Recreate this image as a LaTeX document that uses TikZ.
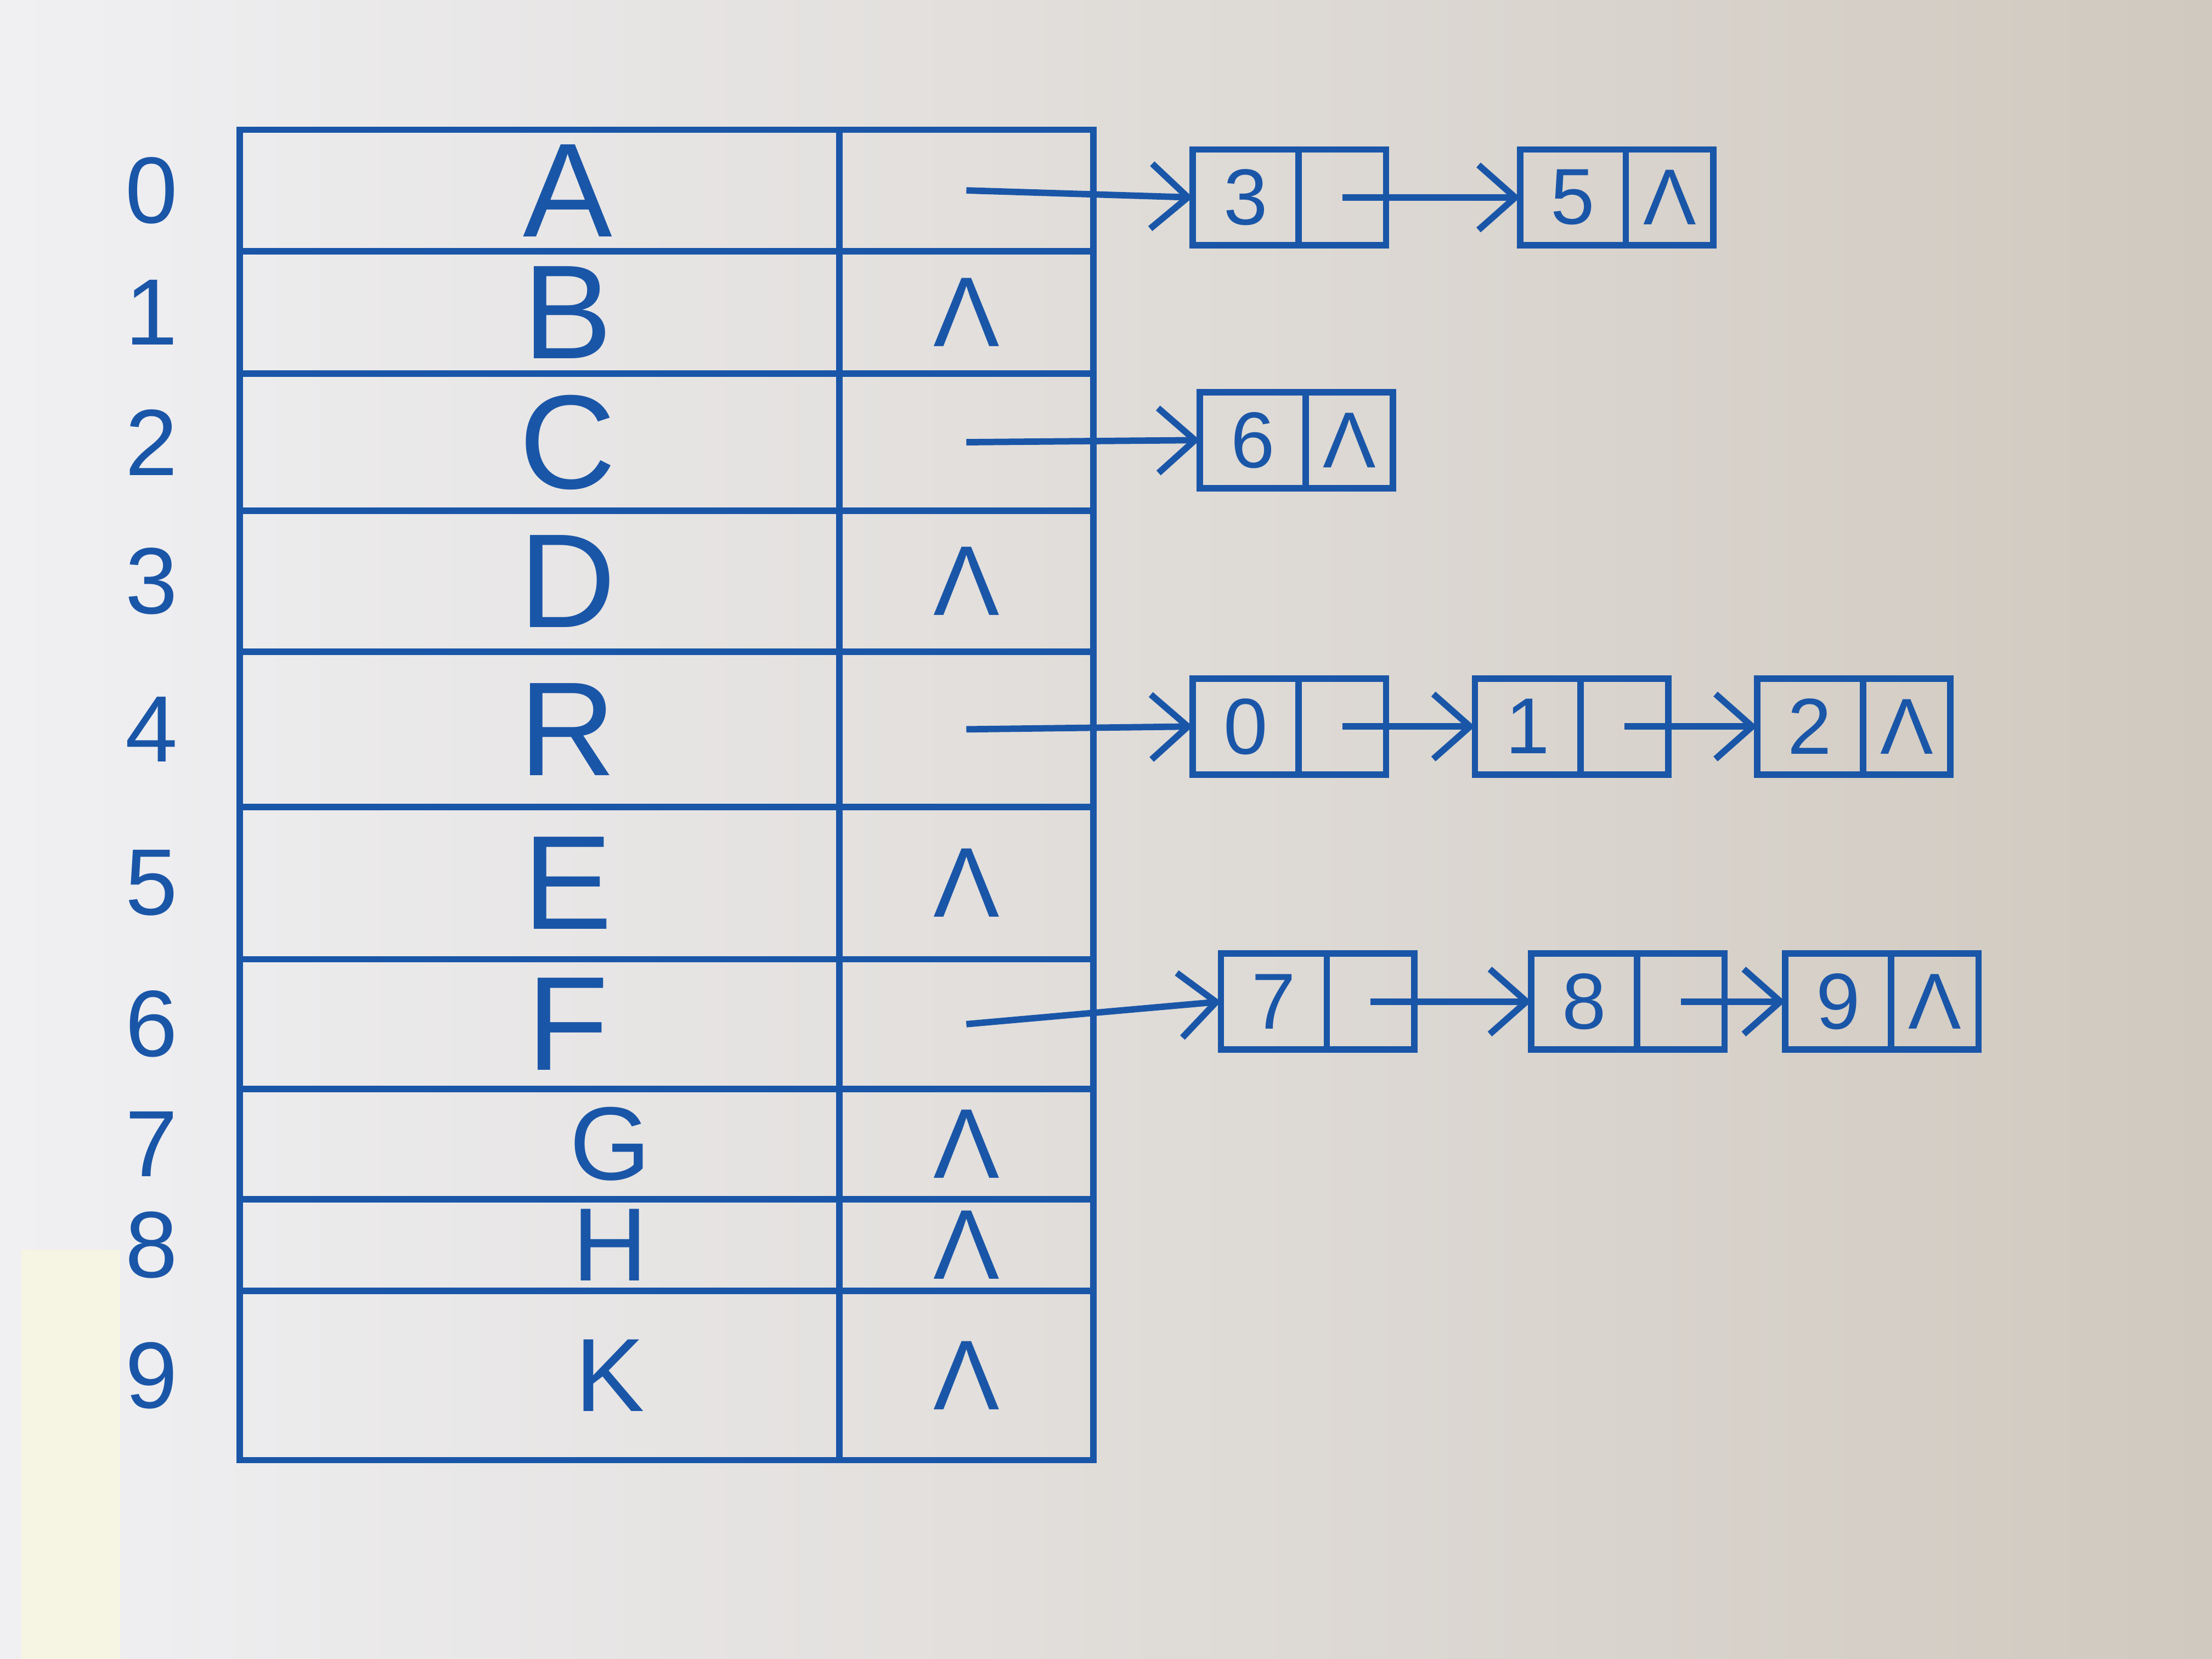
\documentclass[tikz,border=0pt]{standalone}
\usepackage{fontspec}
\setmainfont{Liberation Sans}
\usetikzlibrary{arrows.meta, positioning}
\definecolor{ink}{RGB}{26,86,168}
\definecolor{paperL}{RGB}{240,240,243}
\definecolor{paperM}{RGB}{234,233,232}
\definecolor{paperR}{RGB}{208,201,191}
\definecolor{note}{RGB}{246,244,226}

\begin{document}
\begin{tikzpicture}[
    >={Straight Barb[length=2.6mm, width=4.6mm]},
    line width=1.3pt,
    vtx/.style={
        draw=ink,
        text=ink,
        minimum width=4.25cm,
        outer sep=0pt,
        inner sep=0pt,
        execute at begin node=\hspace*{0.4cm},
        font=\fontsize{27}{27}\selectfont
    },
    vtxs/.style={vtx, execute at begin node=\hspace*{0.6cm}, font=\fontsize{21}{21}\selectfont},
    ptr/.style={
        draw=ink,
        text=ink,
        minimum width=1.8cm,
        outer sep=0pt,
        inner sep=0pt,
        font=\fontsize{20}{20}\selectfont
    },
    idx/.style={text=ink, font=\fontsize{19}{19}\selectfont},
    key/.style={
        draw=ink,
        text=ink,
        minimum width=0.75cm,
        minimum height=0.68cm,
        outer sep=0pt,
        inner sep=0pt,
        font=\fontsize{16}{16}\selectfont
    },
    nxt/.style={key, minimum width=0.62cm},
    link/.style={draw=ink, ->}
]

\useasboundingbox (0,0) rectangle (15.68,11.76);
\fill[left color=paperL, middle color=paperM, right color=paperR] (0,0) rectangle (15.68,11.76);
\fill[note] (0.15,0) rectangle (0.85,2.9);

% ---------------- Vertex table ----------------
\node[vtx,  minimum height=0.86cm] (v0) at (3.825,10.41) {A};
\node[vtx,  minimum height=0.87cm, below=0pt of v0] (v1) {B};
\node[vtx,  minimum height=0.97cm, below=0pt of v1] (v2) {C};
\node[vtx,  minimum height=1.00cm, below=0pt of v2] (v3) {D};
\node[vtx,  minimum height=1.10cm, below=0pt of v3] (v4) {R};
\node[vtx,  minimum height=1.08cm, below=0pt of v4] (v5) {E};
\node[vtx,  minimum height=0.92cm, below=0pt of v5] (v6) {F};
\node[vtxs, minimum height=0.78cm, below=0pt of v6] (v7) {G};
\node[vtxs, minimum height=0.65cm, below=0pt of v7] (v8) {H};
\node[vtxs, minimum height=1.20cm, below=0pt of v8] (v9) {K};

\node[ptr, minimum height=0.86cm, right=0pt of v0] (ptr0) {};
\node[ptr, minimum height=0.87cm, right=0pt of v1] (ptr1) {Λ};
\node[ptr, minimum height=0.97cm, right=0pt of v2] (ptr2) {};
\node[ptr, minimum height=1.00cm, right=0pt of v3] (ptr3) {Λ};
\node[ptr, minimum height=1.10cm, right=0pt of v4] (ptr4) {};
\node[ptr, minimum height=1.08cm, right=0pt of v5] (ptr5) {Λ};
\node[ptr, minimum height=0.92cm, right=0pt of v6] (ptr6) {};
\node[ptr, minimum height=0.78cm, right=0pt of v7] (ptr7) {Λ};
\node[ptr, minimum height=0.65cm, right=0pt of v8] (ptr8) {Λ};
\node[ptr, minimum height=1.20cm, right=0pt of v9] (ptr9) {Λ};

% ---------------- Indices ----------------
\node[idx, left=0.3cm of v0] {0};
\node[idx, left=0.3cm of v1] {1};
\node[idx, left=0.3cm of v2] {2};
\node[idx, left=0.3cm of v3] {3};
\node[idx, left=0.3cm of v4] {4};
\node[idx, left=0.3cm of v5] {5};
\node[idx, left=0.3cm of v6] {6};
\node[idx, left=0.3cm of v7] {7};
\node[idx, left=0.3cm of v8] {8};
\node[idx, left=0.3cm of v9] {9};

% ---------------- Edge lists ----------------
\node[key] (k3) at (8.83,10.36) {3};
\node[nxt, right=0pt of k3] (p3) {};
\node[key, right=0.95cm of p3] (k5) {5};
\node[nxt, right=0pt of k5] (p5) {Λ};

\node[key] (k6) at (8.88,8.64) {6};
\node[nxt, right=0pt of k6] (p6) {Λ};

\node[key] (k0) at (8.83,6.61) {0};
\node[nxt, right=0pt of k0] (p0) {};
\node[key, right=0.63cm of p0] (k1) {1};
\node[nxt, right=0pt of k1] (p1) {};
\node[key, right=0.63cm of p1] (k2) {2};
\node[nxt, right=0pt of k2] (p2) {Λ};

\node[key] (k7) at (9.03,4.66) {7};
\node[nxt, right=0pt of k7] (p7) {};
\node[key, right=0.83cm of p7] (k8) {8};
\node[nxt, right=0pt of k8] (p8) {};
\node[key, right=0.43cm of p8] (k9) {9};
\node[nxt, right=0pt of k9] (p9) {Λ};

% ---------------- Links ----------------
\draw[link] (ptr0.center) -- (k3.west);
\draw[link] (p3.center) -- (k5.west);

\draw[link] (ptr2.center) -- (k6.west);

\draw[link] (ptr4.center) -- (k0.west);
\draw[link] (p0.center) -- (k1.west);
\draw[link] (p1.center) -- (k2.west);

\draw[link] (ptr6.center) -- (k7.west);
\draw[link] (p7.center) -- (k8.west);
\draw[link] (p8.center) -- (k9.west);

\end{tikzpicture}
\end{document}
